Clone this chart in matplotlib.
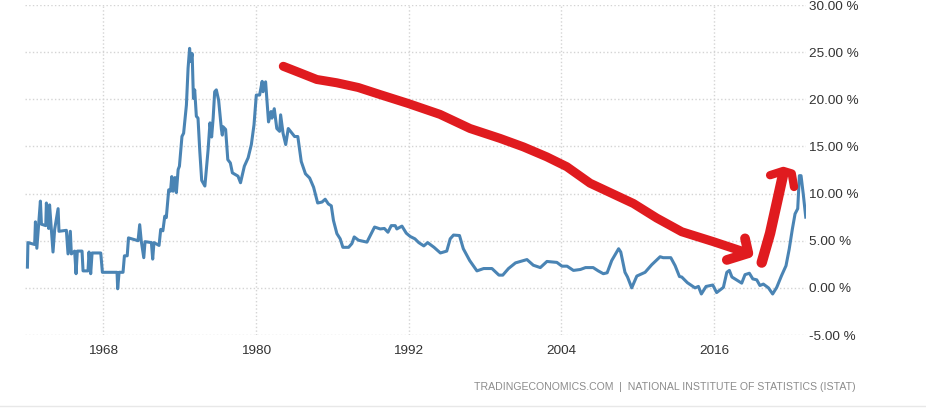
import matplotlib
matplotlib.use("Agg")
import matplotlib.pyplot as plt

plt.rcParams['font.family'] = ['Liberation Sans', 'DejaVu Sans']

# Inflation series
years = [1962.06, 1962.1, 1962.63, 1962.69, 1962.8, 1963.08, 1963.16, 1963.5, 1963.55, 1963.73, 1963.8, 1963.94,
         1964.07, 1964.2, 1964.47, 1964.54, 1965.12, 1965.25, 1965.43, 1965.51, 1965.77, 1965.88, 1965.98, 1966.35,
         1966.43, 1966.82, 1966.9, 1967.03, 1967.14, 1967.82, 1967.95, 1969.1, 1969.15, 1969.26, 1969.57, 1969.68,
         1969.9, 1970.0, 1970.75, 1970.88, 1971.0, 1971.2, 1971.3, 1971.8, 1971.9, 1972.0, 1972.4, 1972.53, 1972.7,
         1972.85, 1972.97, 1973.16, 1973.3, 1973.4, 1973.5, 1973.65, 1973.76, 1973.9, 1974.0, 1974.2, 1974.33,
         1974.55, 1974.68, 1974.8, 1974.88, 1975.0, 1975.1, 1975.2, 1975.33, 1975.46, 1975.6, 1975.75, 1976.0,
         1976.25, 1976.4, 1976.53, 1976.65, 1976.77, 1976.9, 1977.08, 1977.3, 1977.37, 1977.42, 1977.63, 1977.8,
         1978.0, 1978.16, 1978.6, 1978.8, 1979.1, 1979.4, 1979.65, 1979.86, 1980.04, 1980.3, 1980.5, 1980.57,
         1980.77, 1981.0, 1981.2, 1981.27, 1981.45, 1981.65, 1981.87, 1981.95, 1982.14, 1982.35, 1982.55, 1983.05,
         1983.3, 1983.57, 1983.9, 1984.23, 1984.54, 1984.86, 1985.2, 1985.45, 1985.7, 1985.93, 1986.1, 1986.37,
         1986.63, 1986.84, 1987.29, 1987.55, 1987.73, 1988.07, 1988.73, 1989.12, 1989.33, 1989.77, 1990.1, 1990.38,
         1990.64, 1990.95, 1991.08, 1991.48, 1991.82, 1992.13, 1992.5, 1992.8, 1993.2, 1993.5, 1994.0, 1994.5,
         1995.0, 1995.27, 1995.53, 1996.0, 1996.3, 1996.8, 1997.37, 1997.9, 1998.55, 1999.1, 1999.4, 1999.85,
         2000.4, 2001.3, 2001.8, 2002.35, 2002.87, 2003.65, 2004.05, 2004.45, 2004.95, 2005.5, 2005.9, 2006.5,
         2006.9, 2007.3, 2007.6, 2007.96, 2008.5, 2008.67, 2009.0, 2009.2, 2009.53, 2009.93, 2010.58, 2011.1,
         2011.76, 2012.0, 2012.6, 2012.94, 2013.28, 2013.46, 2013.9, 2014.5, 2014.77, 2015.0, 2015.37, 2015.9,
         2016.2, 2016.73, 2017.0, 2017.2, 2017.4, 2018.17, 2018.43, 2018.77, 2019.04, 2019.35, 2019.6, 2019.87,
         2020.27, 2020.6, 2020.92, 2021.3, 2021.65, 2021.9, 2022.15, 2022.36, 2022.57, 2022.7, 2022.83, 2023.0,
         2023.2]
values = [2.2, 4.8, 4.6, 7.0, 4.2, 9.2, 6.75, 6.6, 9.0, 6.3, 8.8, 6.2,
          3.8, 6.2, 8.4, 6.0, 6.1, 3.6, 6.0, 3.6, 3.9, 1.5, 3.9, 3.9,
          1.8, 1.8, 3.8, 1.5, 3.7, 3.7, 1.65, 1.65, -0.1, 1.65, 1.65, 3.4,
          3.4, 5.3, 5.0, 6.7, 5.0, 3.2, 4.9, 4.8, 3.05, 4.8, 4.5, 6.2, 6.05,
          7.6, 7.45, 10.4, 10.25, 11.8, 10.25, 11.7, 10.1, 12.55, 12.9, 16.06, 16.4,
          19.4, 23.3, 25.4, 24.0, 24.85, 20.1, 21.0, 18.2, 18.0, 14.5, 11.4, 10.8,
          14.6, 17.5, 16.0, 18.0, 20.8, 21.0, 19.9, 16.8, 16.2, 17.1, 16.8, 13.6,
          13.25, 12.2, 11.85, 11.15, 12.9, 13.8, 15.2, 17.3, 20.45, 20.45, 21.9, 20.8,
          21.85, 17.6, 18.7, 18.0, 19.0, 16.9, 16.6, 18.35, 16.4, 15.2, 16.9, 16.05,
          16.05, 13.4, 12.1, 11.65, 10.67, 9.0, 9.1, 9.4, 8.9, 8.7, 7.15, 5.75,
          5.2, 4.3, 4.3, 4.7, 5.4, 5.05, 4.85, 5.9, 6.45, 6.25, 6.3, 5.9,
          6.6, 6.6, 6.25, 6.55, 5.8, 5.45, 5.2, 4.8, 4.45, 4.8, 4.3, 3.7,
          3.9, 5.2, 5.6, 5.55, 4.15, 2.9, 1.8, 2.05, 2.05, 1.35, 1.35, 2.05,
          2.65, 3.0, 2.4, 2.15, 2.8, 2.7, 2.3, 2.3, 1.85, 1.95, 2.15, 2.15,
          1.8, 1.5, 1.6, 2.9, 4.15, 3.8, 1.65, 1.15, 0.0, 1.25, 1.65, 2.45,
          3.3, 3.2, 3.2, 2.35, 1.2, 1.15, 0.55, 0.0, 0.15, -0.65, 0.15, 0.3,
          -0.5, 0.05, 1.65, 1.85, 1.15, 0.5, 1.4, 1.55, 0.95, 0.85, 0.25, 0.4,
          0.0, -0.65, 0.05, 1.3, 2.35, 4.1, 6.25, 7.85, 8.4, 11.9, 11.9, 10.0,
          7.5]

# Hand drawn red arrows, same units as the series
down_x = [1982.16, 1983.48, 1984.79, 1986.36, 1988.05, 1989.76, 1991.98, 1994.47, 1996.83, 1999.19, 2001.02,
          2002.85, 2004.43, 2006.26, 2009.66, 2011.5, 2013.46, 2015.94, 2018.69]
down_y = [23.5, 22.8, 22.1, 21.75, 21.25, 20.5, 19.55, 18.4, 16.9, 15.85, 14.95,
          13.9, 12.85, 11.1, 8.95, 7.4, 5.95, 4.9, 3.67]
down_head_x = [2018.43, 2018.69, 2017.0]
down_head_y = [5.25, 3.67, 2.96]
up_x = [2019.74, 2020.4, 2020.92, 2021.44]
up_y = [2.68, 5.8, 8.96, 12.13]
up_head_x = [2020.4, 2021.44, 2022.1, 2022.28]
up_head_y = [11.95, 12.4, 12.13, 10.7]

x_ticks = [1968, 1980, 1992, 2004, 2016]
y_ticks = [-5, 0, 5, 10, 15, 20, 25, 30]
source = "TRADINGECONOMICS.COM  |  NATIONAL INSTITUTE OF STATISTICS (ISTAT)"

W, H = 926, 413
fig = plt.figure(figsize=(W / 100, H / 100), dpi=100)
ax = fig.add_axes([25 / W, 1 - 335 / H, (806 - 25) / W, 330 / H])

ax.plot(years, values, color='#4a84b4', linewidth=2.2, solid_joinstyle='round', zorder=3)

red = '#e01b1f'
ax.plot(down_x, down_y, color=red, linewidth=6.5, solid_capstyle='round', solid_joinstyle='round', zorder=4)
ax.plot(down_head_x, down_head_y, color=red, linewidth=7, solid_capstyle='round', solid_joinstyle='round', zorder=4)
ax.plot(up_x, up_y, color=red, linewidth=7.5, solid_capstyle='round', solid_joinstyle='round', zorder=4)
ax.plot(up_head_x, up_head_y, color=red, linewidth=6, solid_capstyle='round', solid_joinstyle='round', zorder=4)

ax.set_xlim(1961.87, 2023.22)
ax.set_ylim(-5, 30)
ax.set_xticks(x_ticks)
ax.set_yticks(y_ticks)
ax.set_yticklabels([f'{v:.2f} %' for v in y_ticks])
ax.yaxis.tick_right()
ax.tick_params(axis='both', length=0, labelsize=9.7, labelcolor='#333333')
ax.tick_params(axis='x', pad=7)
ax.tick_params(axis='y', pad=2)
ax.grid(True, color='#d4d4d4', linestyle=':', linewidth=1)
ax.set_axisbelow(True)
for spine in ax.spines.values():
    spine.set_visible(False)

fig.text(856 / W, 1 - 387 / H, source, ha='right', va='center', fontsize=7.6, color='#8c8c8c')
fig.add_artist(plt.Line2D([0, 1], [1 - 405.5 / H] * 2, color='#e8e8e8', linewidth=1))

plt.savefig('out.png', dpi=100)
